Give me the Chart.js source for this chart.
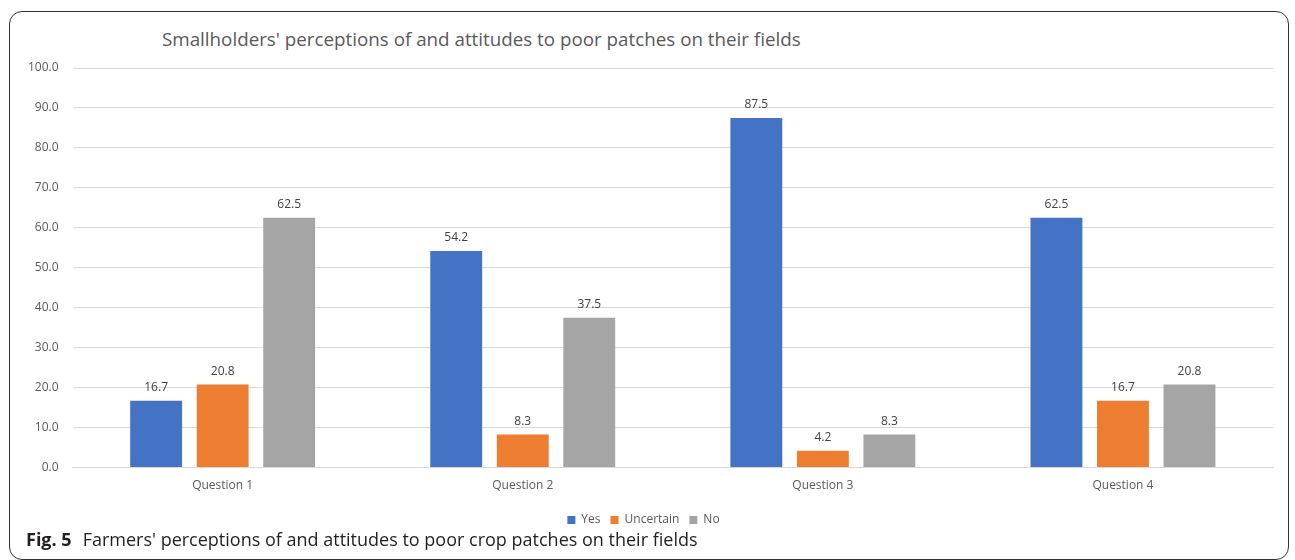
<!DOCTYPE html>
<html>
<head>
<meta charset="utf-8">
<script src="https://cdn.jsdelivr.net/npm/chart.js@4.4.0/dist/chart.umd.min.js"></script>
<style>
    html, body { margin: 0; padding: 0; background: #fff; overflow: hidden; }
    #wrap { position: relative; width: 1295px; height: 560px; }
    #frame {
        position: absolute; left: 9px; top: 11px; width: 1280px; height: 549px;
        border: 1.5px solid #333; border-radius: 13px; box-sizing: border-box;
    }
    #title {
        position: absolute; left: 162px; top: 26px;
        font-family: 'Open Sans', sans-serif; font-size: 18.8px; color: #595959;
        white-space: nowrap;
    }
    #caption {
        position: absolute; left: 26px; top: 527px;
        font-family: 'Open Sans', sans-serif; font-size: 18px; color: #231f20;
        white-space: nowrap;
    }
    #caption b { margin-right: 11px; }
    #chartBox { position: absolute; left: 0; top: 0; width: 1295px; height: 542px; }
</style>
</head>
<body>
<div id="wrap">
    <div id="frame"></div>
    <div id="title">Smallholders' perceptions of and attitudes to poor patches on their fields</div>
    <div id="chartBox"><canvas id="barChart"></canvas></div>
    <div id="caption"><b>Fig. 5</b>Farmers' perceptions of and attitudes to poor crop patches on their fields</div>
</div>
<script>
// ===== DATOS =====
const categories = ['Question 1', 'Question 2', 'Question 3', 'Question 4'];
const yesValues = [16.7, 54.2, 87.5, 62.5];
const uncertainValues = [20.8, 8.3, 4.2, 16.7];
const noValues = [62.5, 37.5, 8.3, 20.8];
const yTicks = [0, 10, 20, 30, 40, 50, 60, 70, 80, 90, 100];

// Etiquetas de valor encima de cada barra
const valueLabels = {
    id: 'valueLabels',
    afterDatasetsDraw(chart) {
        const ctx = chart.ctx;
        ctx.save();
        ctx.font = '12px "Open Sans", sans-serif';
        ctx.fillStyle = '#404040';
        ctx.textAlign = 'center';
        ctx.textBaseline = 'bottom';
        chart.data.datasets.forEach((ds, i) => {
            chart.getDatasetMeta(i).data.forEach((bar, j) => {
                ctx.fillText(ds.data[j].toFixed(1), bar.x, bar.y - 7);
            });
        });
        ctx.restore();
    }
};

const ctx = document.getElementById('barChart').getContext('2d');
new Chart(ctx, {
    type: 'bar',
    data: {
        labels: categories,
        datasets: [{
            label: 'Yes',
            data: yesValues,
            backgroundColor: '#4472C4'
        }, {
            label: 'Uncertain',
            data: uncertainValues,
            backgroundColor: '#ED7D31'
        }, {
            label: 'No',
            data: noValues,
            backgroundColor: '#A5A5A5'
        }]
    },
    options: {
        responsive: true,
        maintainAspectRatio: false,
        animation: false,
        categoryPercentage: 0.665,
        barPercentage: 0.78,
        layout: {
            padding: { left: 14, right: 22, top: 68, bottom: 6 }
        },
        scales: {
            x: {
                grid: { display: false, drawTicks: false },
                border: { color: '#D9D9D9', width: 1 },
                ticks: {
                    color: '#595959',
                    padding: 11,
                    font: { family: '"Open Sans", sans-serif', size: 12 }
                }
            },
            y: {
                min: 0,
                max: 100,
                afterBuildTicks: axis => { axis.ticks = yTicks.map(v => ({ value: v })); },
                grid: { color: '#D9D9D9', drawTicks: false },
                border: { display: false },
                ticks: {
                    color: '#595959',
                    padding: 14,
                    font: { family: '"Open Sans", sans-serif', size: 12 },
                    callback: v => Number(v).toFixed(1)
                }
            }
        },
        plugins: {
            legend: {
                position: 'bottom',
                labels: {
                    color: '#595959',
                    boxWidth: 8,
                    boxHeight: 8,
                    padding: 10,
                    font: { family: '"Open Sans", sans-serif', size: 12 }
                }
            },
            tooltip: { enabled: false },
            title: { display: false }
        }
    },
    plugins: [valueLabels]
});
</script>
</body>
</html>
